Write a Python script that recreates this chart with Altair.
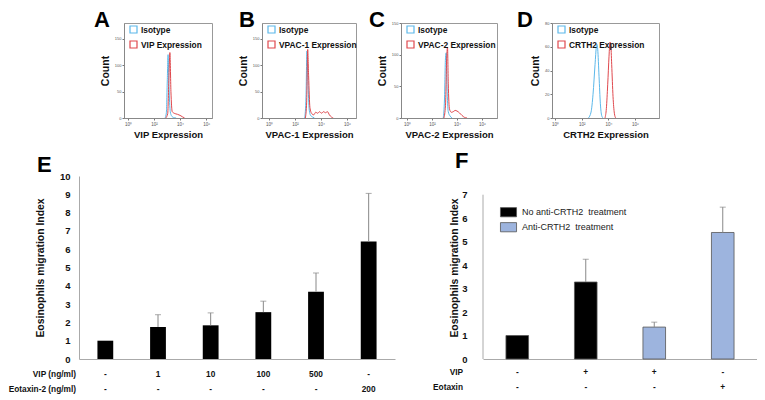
import altair as alt
import pandas as pd

SANS = "Liberation Sans"
BLUE = "#5cb8ea"
RED = "#e0484d"
LIGHTBLUE = "#9db4de"

# ---------------- Panels A-D : flow cytometry histograms (x = log10 intensity) ----------------
a_iso_x = [2.85, 2.95, 3.02, 3.08, 3.15, 3.25, 3.35, 3.5, 3.7]
a_iso_y = [0, 10, 70, 120, 60, 12, 4, 1, 0]
a_exp_x = [2.9, 3.05, 3.15, 3.22, 3.3, 3.4, 3.55, 3.8, 4.0, 4.2, 4.35]
a_exp_y = [0, 8, 80, 124, 50, 12, 9, 7, 5, 2, 0]

b_iso_x = [2.75, 2.85, 2.92, 3.0, 3.1, 3.2, 3.35, 3.5]
b_iso_y = [0, 40, 127, 70, 15, 5, 2, 0]
b_exp_x = [2.8, 2.9, 2.98, 3.05, 3.15, 3.3, 3.45, 3.6, 3.75, 3.9, 4.05, 4.2, 4.35, 4.5, 4.65, 4.8, 4.95]
b_exp_y = [0, 30, 130, 80, 20, 8, 6, 11, 9, 12, 9, 12, 10, 12, 6, 2, 0]

c_iso_x = [2.9, 3.0, 3.08, 3.14, 3.2, 3.3, 3.45, 3.6]
c_iso_y = [0, 30, 95, 103, 50, 10, 3, 0]
c_exp_x = [2.95, 3.08, 3.17, 3.24, 3.3, 3.4, 3.55, 3.7, 3.85, 4.0, 4.2, 4.4, 4.6, 4.8]
c_exp_y = [0, 20, 90, 112, 55, 14, 9, 10, 12, 11, 8, 4, 1, 0]

d_iso_x = [2.5, 2.7, 2.85, 3.0, 3.1, 3.15, 3.2, 3.3, 3.4, 3.5, 3.6]
d_iso_y = [0, 5, 20, 45, 60, 62, 58, 35, 12, 2, 0]
d_exp_x = [3.75, 3.85, 3.95, 4.05, 4.12, 4.18, 4.25, 4.35, 4.45, 4.55]
d_exp_y = [0, 8, 28, 52, 64, 62, 45, 18, 4, 0]

decade_ticks = [0, 2, 4, 6]

# ---------------- Panel E ----------------
e_conditions = ["Medium", "VIP 1", "VIP 10", "VIP 100", "VIP 500", "Eotaxin-2 200"]
e_vip = ["-", "1", "10", "100", "500", "-"]
e_eotaxin = ["-", "-", "-", "-", "-", "200"]
e_mean = [1.0, 1.75, 1.84, 2.56, 3.68, 6.42]
e_sem = [0.0, 0.67, 0.68, 0.60, 1.02, 2.63]
e_rows = ["VIP (ng/ml)", "Eotaxin-2 (ng/ml)"]
e_ticks = list(range(0, 11))

# ---------------- Panel F ----------------
f_conditions = ["Medium", "VIP", "VIP + anti-CRTH2", "Eotaxin + anti-CRTH2"]
f_vip = ["-", "+", "+", "-"]
f_eotaxin = ["-", "-", "-", "+"]
f_treatment = ["No anti-CRTH2\u00a0 treatment", "No anti-CRTH2\u00a0 treatment",
               "Anti-CRTH2\u00a0 treatment", "Anti-CRTH2\u00a0 treatment"]
f_mean = [1.0, 3.28, 1.36, 5.39]
f_sem = [0.0, 0.97, 0.21, 1.08]
f_rows = ["VIP", "Eotaxin"]
f_groups = ["No anti-CRTH2\u00a0 treatment", "Anti-CRTH2\u00a0 treatment"]
f_ticks = list(range(0, 8))
f_axis_range = [0, 7]

HIST_H = 95
BAR_H = 183
F_PX_PER_UNIT = 23.47
YTITLE = "Eosinophils migration Index"


def letter_mark(letter, x, y):
    return alt.Chart(pd.DataFrame({"t": [letter]})).mark_text(
        font=SANS, fontSize=22, fontWeight="bold", align="left", baseline="alphabetic"
    ).encode(text="t:N", x=alt.value(x), y=alt.value(y))


def histogram(letter, letter_x, iso_x, iso_y, exp_x, exp_y, exp_name, x_title,
              x_domain, y_max, y_ticks, width):
    df = pd.DataFrame({
        "x": iso_x + exp_x,
        "y": iso_y + exp_y,
        "series": ["Isotype"] * len(iso_x) + [exp_name] * len(exp_x),
    })
    lines = alt.Chart(df).mark_line(strokeWidth=1, interpolate="monotone", clip=True).encode(
        x=alt.X("x:Q", scale=alt.Scale(domain=x_domain, nice=False, zero=False),
                axis=alt.Axis(values=decade_ticks,
                              labelExpr="'10' + ['⁰','¹','²','³','⁴','⁵','⁶','⁷'][datum.value]",
                              title=x_title, titleFont=SANS, titleFontSize=9.5, titleFontWeight="bold",
                              titleColor="#111", titlePadding=4, labelFontSize=4.5, labelColor="#555",
                              tickSize=2, tickColor="#777", domainColor="#888", grid=False,
                              labelPadding=1, labelOverlap=False)),
        y=alt.Y("y:Q", scale=alt.Scale(domain=[0, y_max], nice=False),
                axis=alt.Axis(values=y_ticks, title="Count", titleFont=SANS, titleFontSize=10.5,
                              titleFontWeight="bold", titleColor="#111", titlePadding=4,
                              labelFontSize=4, labelColor="#555", tickSize=2, tickColor="#777",
                              domainColor="#888", grid=False, labelPadding=1, labelOverlap=False)),
        color=alt.Color("series:N", sort=["Isotype", exp_name],
                        scale=alt.Scale(domain=["Isotype", exp_name], range=[BLUE, RED]),
                        legend=alt.Legend(orient="none", legendX=5, legendY=2, title=None,
                                          symbolType="square", symbolSize=49, symbolStrokeWidth=1.2,
                                          labelFont=SANS, labelFontWeight="bold", labelFontSize=8.4,
                                          labelColor="#111", rowPadding=2, padding=0, labelOffset=3)),
    )
    return alt.layer(lines, letter_mark(letter, letter_x, 4)).properties(
        width=width, height=HIST_H, view=alt.ViewBackground(stroke="#999", strokeWidth=1)
    )


hA = histogram("A", -30, a_iso_x, a_iso_y, a_exp_x, a_exp_y, "VIP Expression", "VIP Expression",
               [-0.3, 6.45], 180, [0, 50, 100, 150], 88)
hB = histogram("B", -23, b_iso_x, b_iso_y, b_exp_x, b_exp_y, "VPAC-1 Expression", "VPAC-1 Expression",
               [-0.54, 6.7], 180, [0, 50, 100, 150], 94)
hC = histogram("C", -32, c_iso_x, c_iso_y, c_exp_x, c_exp_y, "VPAC-2 Expression", "VPAC-2 Expression",
               [-0.48, 7.2], 150, [0, 50, 100, 150], 96)
hD = histogram("D", -35, d_iso_x, d_iso_y, d_exp_x, d_exp_y, "CRTH2 Expression", "CRTH2 Expression",
               [-0.23, 7.8], 80, [0, 20, 40, 60, 80], 107)


def spacer(w, h):
    return alt.Chart(pd.DataFrame({"v": [0]})).mark_point(opacity=0, size=1).properties(width=w, height=h)


def indep(ch):
    return ch.resolve_scale(color="independent", x="independent", y="independent").resolve_legend(
        color="independent")


top_row = indep(alt.hconcat(spacer(45, 10), hA, spacer(50, 10), hB, spacer(45, 10), hC,
                            spacer(55, 10), hD, spacing=0, bounds="flush"))

# ---------------- Bar chart helpers ----------------
ROW_FONT = 8.3


def y_axis(values, label_padding, title_padding, show_domain):
    return alt.Axis(values=values, title=YTITLE, labelFont=SANS, labelFontSize=9.5,
                    labelFontWeight="bold", labelColor="#111", ticks=False, grid=False,
                    titleFont=SANS, titleFontSize=10.4, labelOverlap=False, titleFontWeight="bold",
                    titleColor="#111", labelPadding=label_padding, titlePadding=title_padding,
                    domain=show_domain, domainColor="#aaa")


X_AXIS = alt.Axis(labels=False, ticks=False, title=None, domainColor="#aaa")


def row_text(df, xenc, field, y):
    return alt.Chart(df).mark_text(font=SANS, fontSize=ROW_FONT, fontWeight="bold", color="#111",
                                   baseline="middle").encode(x=xenc, y=alt.value(y), text=f"{field}:N")


def row_title(label, y, x):
    return alt.Chart(pd.DataFrame({"t": [label]})).mark_text(
        font=SANS, fontSize=ROW_FONT, fontWeight="bold", color="#111", align="right", baseline="middle"
    ).encode(text="t:N", x=alt.value(x), y=alt.value(y))


# ---------------- Panel E chart ----------------
E_W = 316
e_df = pd.DataFrame({"cond": e_conditions, "mean": e_mean, "sem": e_sem, "vip": e_vip, "eot": e_eotaxin})
e_df["top"] = e_df["mean"] + e_df["sem"]
ex = alt.X("cond:N", sort=e_conditions, scale=alt.Scale(paddingInner=0.7, paddingOuter=0.35), axis=X_AXIS)
e_yscale = alt.Scale(domain=[0, 10], nice=False)
e_yaxis = y_axis(e_ticks, 9, 14, True)
e_base = alt.Chart(e_df)
e_bars = e_base.mark_bar(color="black").encode(x=ex, y=alt.Y("mean:Q", scale=e_yscale, axis=e_yaxis))
e_err = e_base.transform_filter("datum.sem > 0").mark_rule(color="#888", strokeWidth=1).encode(
    x=ex, y=alt.Y("mean:Q", scale=e_yscale, axis=e_yaxis), y2="top:Q")
e_cap = e_base.transform_filter("datum.sem > 0").mark_tick(color="#888", size=6, thickness=1).encode(
    x=ex, y=alt.Y("top:Q", scale=e_yscale, axis=e_yaxis))
e_chart = alt.layer(
    e_bars, e_err, e_cap,
    row_text(e_df, ex, "vip", BAR_H + 16),
    row_text(e_df, ex, "eot", BAR_H + 31),
    row_title(e_rows[0], BAR_H + 16, -3),
    row_title(e_rows[1], BAR_H + 31, -3),
    letter_mark("E", -42, -4),
).properties(width=E_W, height=BAR_H)

# ---------------- Panel F chart ----------------
F_W = 274
f_top = BAR_H / F_PX_PER_UNIT
f_off = BAR_H - f_axis_range[1] * F_PX_PER_UNIT  # pixel height above the "7" tick
f_df = pd.DataFrame({"cond": f_conditions, "mean": f_mean, "sem": f_sem, "vip": f_vip,
                     "eot": f_eotaxin, "grp": f_treatment})
f_df["top"] = f_df["mean"] + f_df["sem"]
fx = alt.X("cond:N", sort=f_conditions, scale=alt.Scale(paddingInner=0.67, paddingOuter=0.335), axis=X_AXIS)
f_yscale = alt.Scale(domain=[0, f_top], nice=False)
f_yaxis = y_axis(f_ticks, 16, 2, False)
f_base = alt.Chart(f_df)
f_bars = f_base.mark_bar(stroke="#555", strokeWidth=0.8).encode(
    x=fx,
    y=alt.Y("mean:Q", scale=f_yscale, axis=f_yaxis),
    color=alt.Color("grp:N", sort=f_groups, scale=alt.Scale(domain=f_groups, range=["black", LIGHTBLUE]),
                    legend=alt.Legend(orient="none", legendX=19, legendY=f_off + 11, title=None,
                                      symbolType="M-1.4,-0.8H1.4V0.8H-1.4Z", symbolSize=132,
                                      symbolStrokeColor="#555", symbolStrokeWidth=0.8,
                                      labelFont=SANS, labelFontSize=9, labelColor="#222",
                                      rowPadding=2, padding=0, labelOffset=7)),
)
f_axis_line = alt.Chart(pd.DataFrame({"y0": [f_axis_range[0]], "y1": [f_axis_range[1]]})).mark_rule(
    color="#aaa", strokeWidth=1).encode(x=alt.value(0), y=alt.Y("y0:Q", scale=f_yscale, axis=f_yaxis),
                                        y2="y1:Q")
f_err = f_base.transform_filter("datum.sem > 0").mark_rule(color="#888", strokeWidth=1).encode(
    x=fx, y=alt.Y("mean:Q", scale=f_yscale, axis=f_yaxis), y2="top:Q")
f_cap = f_base.transform_filter("datum.sem > 0").mark_tick(color="#888", size=6, thickness=1).encode(
    x=fx, y=alt.Y("top:Q", scale=f_yscale, axis=f_yaxis))
f_chart = alt.layer(
    f_bars, f_axis_line, f_err, f_cap,
    row_text(f_df, fx, "vip", BAR_H + 14),
    row_text(f_df, fx, "eot", BAR_H + 29),
    row_title(f_rows[0], BAR_H + 14, -20),
    row_title(f_rows[1], BAR_H + 29, -20),
    letter_mark("F", -28, f_off - 27),
).properties(width=F_W, height=BAR_H)

bottom_row = indep(alt.hconcat(e_chart, f_chart, spacing=88, bounds="flush"))

chart = indep(alt.vconcat(top_row, bottom_row, spacing=9)).properties(
    padding=0
).configure(font=SANS).configure_view(strokeWidth=0)

chart.save("out.html", embed_options={"renderer": "svg", "actions": False})
